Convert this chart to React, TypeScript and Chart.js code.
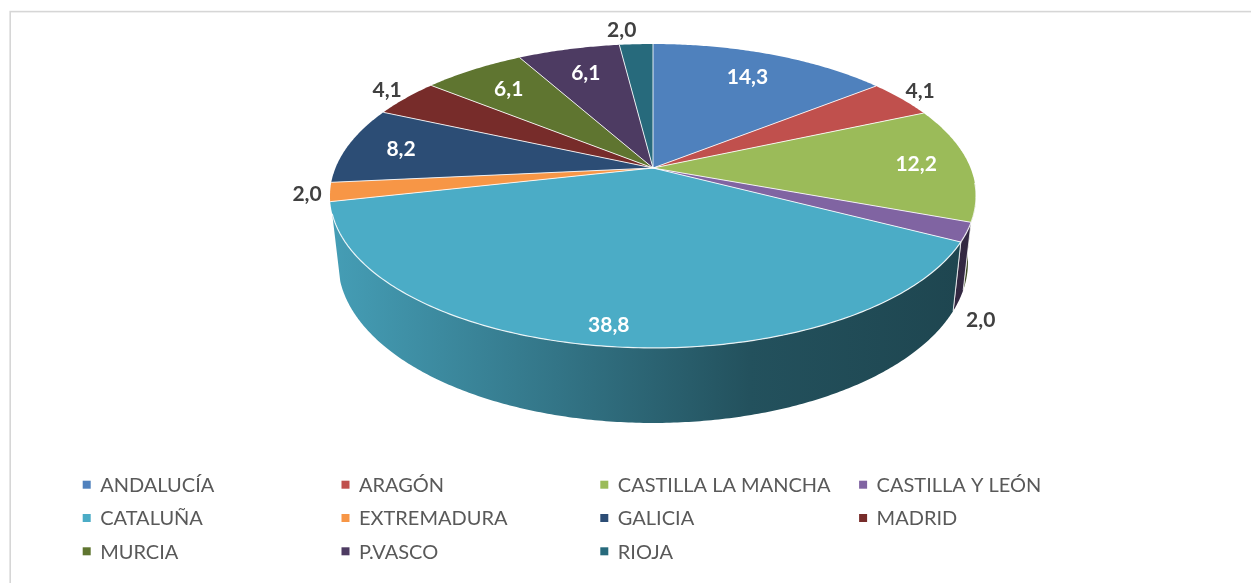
import React, { useEffect, useRef } from "react";
import { Chart, registerables } from "chart.js";

Chart.register(...registerables);

// ---- data ----
const regions = [
  "ANDALUCÍA",
  "ARAGÓN",
  "CASTILLA LA MANCHA",
  "CASTILLA Y LEÓN",
  "CATALUÑA",
  "EXTREMADURA",
  "GALICIA",
  "MADRID",
  "MURCIA",
  "P.VASCO",
  "RIOJA",
];
const shares = [14.3, 4.1, 12.2, 2.0, 38.8, 2.0, 8.2, 4.1, 6.1, 6.1, 2.0];
const sliceColors = [
  "#4F81BD",
  "#C0504D",
  "#9BBB59",
  "#8064A2",
  "#4BACC6",
  "#F79646",
  "#2C4D75",
  "#772C2A",
  "#5F7530",
  "#4D3B62",
  "#276A7C",
];

// ---- 3D look (perspective) ----
const W = 1251;
const H = 583;
const PERSP = 0.184; // near side bigger
const Y_RATIO = 0.4624; // vertical squash of top face
const BOTTOM_SHRINK = 0.975; // bottom face slightly smaller
const DEPTH = 0.2044; // wall thickness relative to radius
const WALL_FROM = 0.1; // visible wall angular range (radians, canvas angles)
const WALL_TO = Math.PI - 0.3;
const LABEL_FONT = "bold 21px Lato";
const LEGEND_FONT = "20px Lato";

function rgb(hex: string): [number, number, number] {
  const n = parseInt(hex.slice(1), 16);
  return [(n >> 16) & 255, (n >> 8) & 255, n & 255];
}
function shade(hex: string, f: number) {
  const [r, g, b] = rgb(hex);
  return `rgb(${Math.round(r * f)},${Math.round(g * f)},${Math.round(b * f)})`;
}
function fmt(v: number) {
  return v.toFixed(1).replace(".", ",");
}

const framePlugin = {
  id: "frame",
  beforeDraw(chart: any) {
    const ctx = chart.ctx;
    ctx.save();
    ctx.fillStyle = "#ffffff";
    ctx.fillRect(0, 0, chart.width, chart.height);
    ctx.strokeStyle = "#d6d6d6";
    ctx.lineWidth = 1.6;
    ctx.strokeRect(10.2, 11.6, chart.width + 40, chart.height + 40);
    ctx.restore();
  },
};

const pie3dPlugin = {
  id: "pie3d",
  beforeDatasetsDraw(chart: any) {
    const ctx: CanvasRenderingContext2D = chart.ctx;
    const meta = chart.getDatasetMeta(0);
    const arcs = meta.data;
    if (!arcs.length) return false;
    const first = arcs[0].getProps(["x", "y", "outerRadius"], true);
    const cx = first.x;
    const cy = first.y;
    const R = first.outerRadius;
    const top = (a: number, r = 1): [number, number] => {
      const u = r * Math.cos(a);
      const v = r * Math.sin(a);
      const w = 1 - PERSP * v;
      return [cx + (R * u) / w, cy + (R * Y_RATIO * v) / w];
    };
    const bot = (a: number, r = 1): [number, number] => {
      const u = r * Math.cos(a);
      const v = r * Math.sin(a);
      const w = 1 - PERSP * v;
      return [
        cx + (BOTTOM_SHRINK * R * u) / w,
        cy + (BOTTOM_SHRINK * R * Y_RATIO * v + DEPTH * R) / w,
      ];
    };
    const colors: string[] = chart.data.datasets[0].backgroundColor;
    const values: number[] = chart.data.datasets[0].data;

    ctx.save();
    // ---- walls (visible front part only) ----
    arcs.forEach((arc: any, i: number) => {
      const p = arc.getProps(["startAngle", "endAngle"], true);
      const a0 = Math.max(p.startAngle, WALL_FROM);
      const a1 = Math.min(p.endAngle, WALL_TO);
      if (a1 <= a0) return;
      const n = Math.max(2, Math.ceil((a1 - a0) / 0.01));
      ctx.beginPath();
      for (let s = 0; s <= n; s++) {
        const a = a0 + ((a1 - a0) * s) / n;
        const [x, y] = top(a);
        if (s === 0) ctx.moveTo(x, y);
        else ctx.lineTo(x, y);
      }
      for (let s = n; s >= 0; s--) {
        const a = a0 + ((a1 - a0) * s) / n;
        const [x, y] = bot(a);
        ctx.lineTo(x, y);
      }
      ctx.closePath();
      const g = ctx.createLinearGradient(cx - R * 1.02, 0, cx + R * 1.02, 0);
      g.addColorStop(0, shade(colors[i], 0.92));
      g.addColorStop(0.35, shade(colors[i], 0.68));
      g.addColorStop(0.65, shade(colors[i], 0.47));
      g.addColorStop(1, shade(colors[i], 0.4));
      ctx.fillStyle = g;
      ctx.fill();
      // vertical edges between slices
      ctx.strokeStyle = "rgba(255,255,255,0.75)";
      ctx.lineWidth = 1;
      [a0, a1].forEach((a) => {
        if (a <= WALL_FROM + 0.001 || a >= WALL_TO - 0.001) return;
        const [x1, y1] = top(a);
        const [x2, y2] = bot(a);
        ctx.beginPath();
        ctx.moveTo(x1, y1);
        ctx.lineTo(x2, y2);
        ctx.stroke();
      });
    });

    // ---- top faces ----
    arcs.forEach((arc: any, i: number) => {
      const p = arc.getProps(["startAngle", "endAngle"], true);
      const n = Math.max(2, Math.ceil((p.endAngle - p.startAngle) / 0.01));
      ctx.beginPath();
      ctx.moveTo(cx, cy);
      for (let s = 0; s <= n; s++) {
        const a = p.startAngle + ((p.endAngle - p.startAngle) * s) / n;
        const [x, y] = top(a);
        ctx.lineTo(x, y);
      }
      ctx.closePath();
      ctx.fillStyle = colors[i];
      ctx.fill();
    });
    arcs.forEach((arc: any) => {
      const p = arc.getProps(["startAngle"], true);
      const [x, y] = top(p.startAngle);
      ctx.beginPath();
      ctx.moveTo(cx, cy);
      ctx.lineTo(x, y);
      ctx.strokeStyle = "rgba(255,255,255,0.85)";
      ctx.lineWidth = 1;
      ctx.stroke();
    });
    // front rim highlight
    ctx.beginPath();
    for (let s = 0; s <= 200; s++) {
      const a = WALL_FROM + ((WALL_TO - WALL_FROM) * s) / 200;
      const [x, y] = top(a);
      if (s === 0) ctx.moveTo(x, y);
      else ctx.lineTo(x, y);
    }
    ctx.strokeStyle = "rgba(255,255,255,0.85)";
    ctx.lineWidth = 1.2;
    ctx.stroke();

    // ---- value labels ----
    ctx.font = LABEL_FONT;
    ctx.textAlign = "center";
    ctx.textBaseline = "middle";
    arcs.forEach((arc: any, i: number) => {
      const p = arc.getProps(["startAngle", "endAngle"], true);
      const mid = (p.startAngle + p.endAngle) / 2;
      const text = fmt(values[i]);
      if (values[i] >= 5) {
        const r = 0.835 + 0.07 * Math.sin(mid);
        const [x, y] = top(mid, r);
        ctx.fillStyle = "#ffffff";
        ctx.fillText(text, x, y);
      } else {
        const hw = ctx.measureText(text).width / 2;
        const hh = 10;
        const c = Math.cos(mid);
        const sideX = Math.sign(c) * Math.max(Math.abs(c), 0.85) * (hw + 2);
        let x: number;
        let y: number;
        if (Math.sin(mid) > 0.3) {
          const [px, py] = bot(mid, 1.02);
          x = px + sideX;
          y = py + hh + 8;
        } else {
          const [px, py] = top(mid, 1.02);
          x = px + sideX;
          y = py + Math.sin(mid) * (hh + 2);
        }
        ctx.fillStyle = "#404040";
        ctx.fillText(text, x, y);
      }
    });
    ctx.restore();
    return false;
  },
};

const legendPlugin = {
  id: "gridLegend",
  afterDraw(chart: any) {
    const ctx: CanvasRenderingContext2D = chart.ctx;
    const labels: string[] = chart.data.labels;
    const colors: string[] = chart.data.datasets[0].backgroundColor;
    ctx.save();
    ctx.font = LEGEND_FONT;
    ctx.textAlign = "left";
    ctx.textBaseline = "middle";
    labels.forEach((lab, i) => {
      const col = i % 4;
      const row = Math.floor(i / 4);
      const x = 82.7 + col * 258.8;
      const y = 484.7 + row * 33.3;
      ctx.fillStyle = colors[i];
      ctx.fillRect(x, y - 4, 8, 8);
      ctx.fillStyle = "#595959";
      ctx.fillText(lab, x + 17.5, y + 1);
    });
    ctx.restore();
  },
};

export default function App() {
  const ref = useRef<HTMLCanvasElement | null>(null);
  useEffect(() => {
    if (!ref.current) return;
    const chart = new Chart(ref.current, {
      type: "pie",
      data: {
        labels: regions,
        datasets: [
          {
            data: shares,
            backgroundColor: sliceColors,
            borderColor: "#ffffff",
            borderWidth: 1,
            clip: false as any,
          },
        ],
      },
      options: {
        responsive: false,
        animation: false,
        events: [],
        radius: 317.5,
        layout: { padding: { left: 55, right: 0, top: 0, bottom: 247 } },
        plugins: {
          legend: { display: false },
          tooltip: { enabled: false },
        },
      } as any,
      plugins: [framePlugin, pie3dPlugin, legendPlugin],
    });
    return () => chart.destroy();
  }, []);
  return (
    <div style={{ position: "absolute", left: 0, top: 0, width: W, height: H }}>
      <canvas ref={ref} width={W} height={H} style={{ display: "block" }} />
    </div>
  );
}
